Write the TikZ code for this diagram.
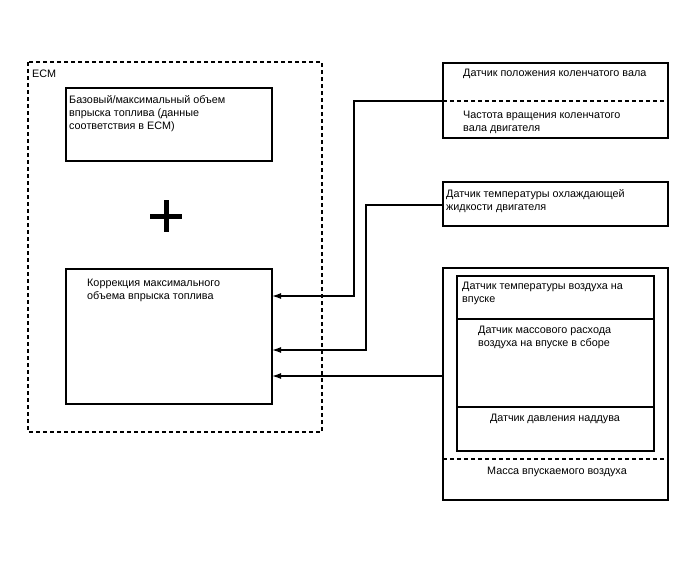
\documentclass[tikz,border=0pt]{standalone}
\usepackage{fontspec}
\setmainfont{Liberation Sans}
\usetikzlibrary{arrows.meta}
\begin{document}
\begin{tikzpicture}[x=1pt,y=-1pt,
  box/.style={draw,line width=1.3pt},
  txt/.style={anchor=north west,inner sep=0pt,align=left,font=\fontsize{10.8}{13}\selectfont},
  ctxt/.style={anchor=north,inner sep=0pt,align=center,font=\fontsize{10.8}{13}\selectfont},
  dline/.style={line width=1.3pt,dash pattern=on 4pt off 3pt},
  arr/.style={line width=1.3pt,-{Latex[length=9pt,width=6pt]}}]
\useasboundingbox (0,0) rectangle (688,560);
% ECM
\draw[dline] (28,62) rectangle (322,432);
\node[txt] (ecm) at (32,70) {ECM};
\draw[box] (66,88) rectangle (272,161);
\node[txt] (t1) at (69,95) {Базовый/максимальный объем\\впрыска топлива (данные\\соответствия в ECM)};
\draw[line width=5pt] (150,216) -- (182,216);
\draw[line width=5pt] (166,200) -- (166,232);
\draw[box] (66,269) rectangle (272,404);
\coordinate (in1) at (272,296);
\coordinate (in2) at (272,350);
\coordinate (in3) at (272,376);
\node[txt] (t2) at (87,279) {Коррекция максимального\\объема впрыска топлива};
% Box A
\draw[box] (443,63) rectangle (668,138);
\draw[dline] (443,101) -- (668,101);
\coordinate (a) at (443,101);
\node[txt] (ta1) at (463,69) {Датчик положения коленчатого вала};
\node[txt] (ta2) at (463,111) {Частота вращения коленчатого\\вала двигателя};
% Box B
\draw[box] (443,182) rectangle (668,226);
\coordinate (b) at (443,205);
\node[txt] (tb) at (446,189) {Датчик температуры охлаждающей\\жидкости двигателя};
% Box C
\draw[box] (443,268) rectangle (668,500);
\draw[box] (457,276) rectangle (654,451);
\draw[box] (457,319) -- (654,319);
\draw[box] (457,407) -- (654,407);
\draw[dline] (443,459) -- (668,459);
\coordinate (c) at (443,376);
\node[txt] (tc1) at (462,282) {Датчик температуры воздуха на\\впуске};
\node[txt] (tc2) at (478,326) {Датчик массового расхода\\воздуха на впуске в сборе};
\node[ctxt] (tc3) at (555,414) {Датчик давления наддува};
\node[ctxt] (tc4) at (557,467) {Масса впускаемого воздуха};
% connectors
\draw[arr] (a) -| (354,296) -- (in1);
\draw[arr] (b) -| (366,350) -- (in2);
\draw[arr] (c) -- (in3);
\end{tikzpicture}
\end{document}
